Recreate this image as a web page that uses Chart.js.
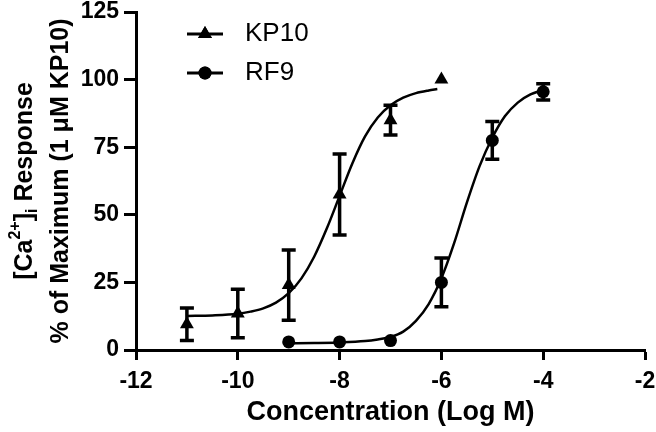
<!DOCTYPE html>
<html>
<head>
<meta charset="utf-8">
<script src="https://cdn.jsdelivr.net/npm/chart.js@4.4.0/dist/chart.umd.min.js"></script>
<style>
  html, body { margin: 0; padding: 0; background: #fff; }
  #wrap { width: 656px; height: 432px; }
</style>
</head>
<body>
<div id="wrap"><canvas id="grafico" width="656" height="432"></canvas></div>
<script>
// puntos medidos (media ± error)
const kp10Conc = [-11, -10, -9, -8, -7, -6];
const kp10Media = [9.5, 13.5, 24, 57.5, 85, 100];
const kp10Error = [6, 9, 13, 15, 5.5, 0];

const rf9Conc = [-9, -8, -7, -6, -5, -4];
const rf9Media = [3, 3, 3.5, 25, 77.5, 95.5];
const rf9Error = [0, 0, 0, 9, 7, 3];

// curvas ajustadas
const kp10CurvaX = [-11, -10.5, -10, -9.75, -9.5, -9.25, -9, -8.75, -8.5, -8.25, -8, -7.75, -7.5, -7.25, -7, -6.75, -6.5, -6.25, -6.08];
const kp10CurvaY = [12.6, 12.8, 13.4, 14.2, 15.4, 17.5, 21, 26.5, 34.5, 45, 57, 69, 79, 86, 90.5, 93.3, 95, 96, 96.5];

const rf9CurvaX = [-9, -8.5, -8, -7.5, -7.25, -7, -6.75, -6.5, -6.25, -6, -5.75, -5.5, -5.25, -5, -4.75, -4.5, -4.25, -4];
const rf9CurvaY = [2.5, 2.6, 2.8, 3.3, 3.9, 4.8, 6.8, 10.8, 17, 26.5, 39.5, 54.5, 68, 78.5, 86.5, 91.5, 94.5, 96.2];

const xTicks = [-12, -10, -8, -6, -4, -2];
const yTicks = [0, 25, 50, 75, 100, 125];

const fuente = '"Liberation Sans", Arial, sans-serif';
const ctx = document.getElementById('grafico').getContext('2d');

const pares = (xs, ys) => xs.map((x, i) => ({ x, y: ys[i] }));

const barrasError = {
    id: 'barrasError',
    afterDatasetsDraw(chart) {
    const { ctx, scales: { x, y } } = chart;
    const grupos = [[kp10Conc, kp10Media, kp10Error], [rf9Conc, rf9Media, rf9Error]];
    ctx.save();
    ctx.strokeStyle = '#000';
    ctx.lineWidth = 3.5;
    grupos.forEach(([cs, ms, es]) => {
        cs.forEach((c, i) => {
        if (!es[i]) return;
        const px = x.getPixelForValue(c);
        const y1 = y.getPixelForValue(ms[i] + es[i]);
        const y2 = y.getPixelForValue(ms[i] - es[i]);
        ctx.beginPath();
        ctx.moveTo(px, y1); ctx.lineTo(px, y2);
        ctx.moveTo(px - 7, y1); ctx.lineTo(px + 7, y1);
        ctx.moveTo(px - 7, y2); ctx.lineTo(px + 7, y2);
        ctx.stroke();
        });
    });
    ctx.restore();
    }
};

const leyenda = {
    id: 'leyenda',
    afterDraw(chart) {
    const { ctx } = chart;
    const items = [['KP10', 'triangle', 34], ['RF9', 'circle', 73]];
    ctx.save();
    items.forEach(([txt, estilo, yy]) => {
        ctx.strokeStyle = '#000';
        ctx.lineWidth = 3;
        ctx.beginPath();
        ctx.moveTo(187, yy); ctx.lineTo(223, yy);
        ctx.stroke();
        ctx.fillStyle = '#000';
        Chart.helpers.drawPoint(ctx, { pointStyle: estilo, radius: estilo === 'triangle' ? 8 : 6.5, borderWidth: 0 }, 205, yy);
        ctx.fill();
        ctx.font = '26px ' + fuente;
        ctx.textBaseline = 'middle';
        ctx.textAlign = 'left';
        ctx.fillText(txt, 245, yy);
    });
    ctx.restore();
    }
};

const tituloY = {
    id: 'tituloY',
    afterDraw(chart) {
    const { ctx, chartArea } = chart;
    const cy = (chartArea.top + chartArea.bottom) / 2;
    const linea1 = [
        { t: '[Ca', s: 25, dy: 0 },
        { t: '2+', s: 16, dy: -12 },
        { t: ']', s: 25, dy: 0 },
        { t: 'i', s: 16, dy: 5 },
        { t: ' Response', s: 25, dy: 0 }
    ];
    ctx.save();
    ctx.fillStyle = '#000';
    ctx.textBaseline = 'alphabetic';
    ctx.textAlign = 'left';
    // linea 1
    ctx.save();
    ctx.translate(32, cy);
    ctx.rotate(-Math.PI / 2);
    let ancho = 0;
    linea1.forEach(p => { ctx.font = 'bold ' + p.s + 'px ' + fuente; ancho += ctx.measureText(p.t).width; });
    let pos = -ancho / 2;
    linea1.forEach(p => {
        ctx.font = 'bold ' + p.s + 'px ' + fuente;
        ctx.fillText(p.t, pos, p.dy);
        pos += ctx.measureText(p.t).width;
    });
    ctx.restore();
    // linea 2
    ctx.save();
    ctx.translate(68, cy);
    ctx.rotate(-Math.PI / 2);
    ctx.font = 'bold 25px ' + fuente;
    ctx.textAlign = 'center';
    ctx.fillText('% of Maximum (1 \u03BCM KP10)', 0, 0);
    ctx.restore();
    ctx.restore();
    }
};

const chart = new Chart(ctx, {
    type: 'scatter',
    data: {
    datasets: [
        {
        label: 'KP10 ajuste',
        data: pares(kp10CurvaX, kp10CurvaY),
        showLine: true,
        borderColor: '#000',
        borderWidth: 2.5,
        pointRadius: 0,
        cubicInterpolationMode: 'monotone'
        },
        {
        label: 'RF9 ajuste',
        data: pares(rf9CurvaX, rf9CurvaY),
        showLine: true,
        borderColor: '#000',
        borderWidth: 2.5,
        pointRadius: 0,
        cubicInterpolationMode: 'monotone'
        },
        {
        label: 'KP10',
        data: pares(kp10Conc, kp10Media),
        pointStyle: 'triangle',
        pointRadius: 8,
        backgroundColor: '#000',
        borderColor: '#000',
        borderWidth: 0
        },
        {
        label: 'RF9',
        data: pares(rf9Conc, rf9Media),
        pointStyle: 'circle',
        pointRadius: 6.5,
        backgroundColor: '#000',
        borderColor: '#000',
        borderWidth: 0
        }
    ]
    },
    options: {
    responsive: false,
    animation: false,
    devicePixelRatio: 1,
    layout: { padding: { top: 12, right: 11, left: 0, bottom: 0 } },
    plugins: { legend: { display: false }, tooltip: { enabled: false } },
    scales: {
        x: {
        type: 'linear',
        min: -12,
        max: -2,
        afterBuildTicks: s => { s.ticks = xTicks.map(v => ({ value: v })); },
        afterFit: s => { s.height = 82; s.paddingLeft = 0; s.paddingRight = 0; s.paddingTop = 0; s.paddingBottom = 0; },
        border: { color: '#000', width: 3 },
        grid: { drawOnChartArea: false, color: '#000', tickLength: 10, tickWidth: 3 },
        ticks: { color: '#000', padding: 8, font: { family: fuente, size: 23, weight: 'bold' } },
        title: {
            display: true,
            text: 'Concentration (Log M)',
            color: '#000',
            padding: { top: 0, bottom: 3 },
            font: { family: fuente, size: 27, weight: 'bold' }
        }
        },
        y: {
        min: 0,
        max: 125,
        afterBuildTicks: s => { s.ticks = yTicks.map(v => ({ value: v })); },
        afterFit: s => { s.width = 136; s.paddingLeft = 0; s.paddingRight = 0; s.paddingTop = 0; s.paddingBottom = 0; },
        border: { color: '#000', width: 3 },
        grid: { drawOnChartArea: false, color: '#000', tickLength: 12, tickWidth: 3 },
        ticks: { color: '#000', padding: 5, font: { family: fuente, size: 23, weight: 'bold' } }
        }
    }
    },
    plugins: [barrasError, leyenda, tituloY]
});
</script>
</body>
</html>
